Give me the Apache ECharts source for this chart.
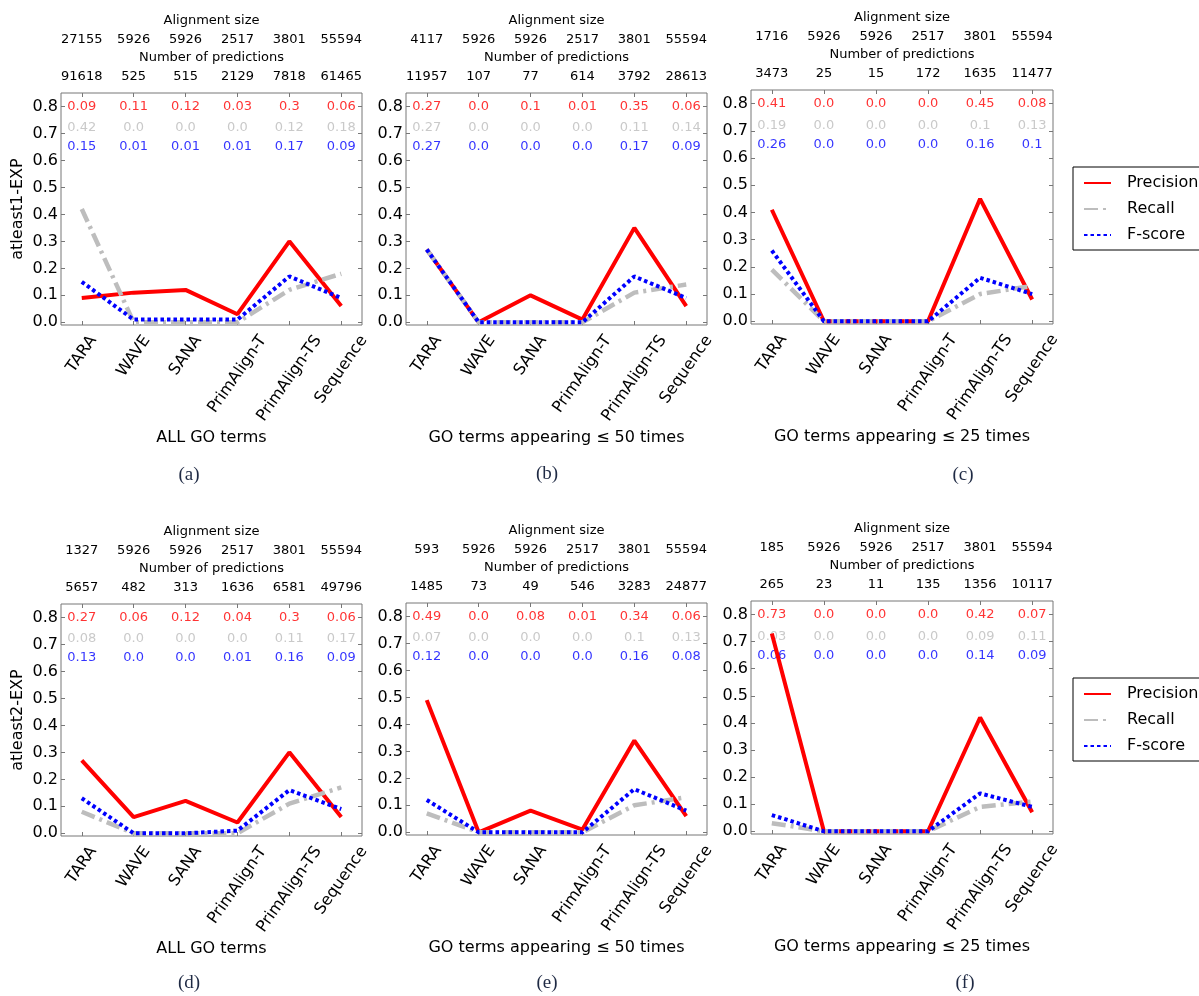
<!DOCTYPE html>
<html>
<head>
<meta charset="utf-8">
<title>GO term prediction</title>
<script src="https://cdn.jsdelivr.net/npm/echarts@6/dist/echarts.min.js"></script>
<style>
  html, body { margin: 0; padding: 0; background: #fff; }
  #main { width: 1199px; height: 996px; }
</style>
</head>
<body>
<div id="main"></div>
<script>
// ---- data ----
var methods = ['TARA', 'WAVE', 'SANA', 'PrimAlign-T', 'PrimAlign-TS', 'Sequence'];
var yTicks = [0, 0.1, 0.2, 0.3, 0.4, 0.5, 0.6, 0.7, 0.8];
var xIdx = [0, 1, 2, 3, 4, 5];
var rowNames = ['atleast1-EXP', 'atleast2-EXP'];
var panelNames = ['ALL GO terms', 'GO terms appearing \u2264 50 times', 'GO terms appearing \u2264 25 times',
                  'ALL GO terms', 'GO terms appearing \u2264 50 times', 'GO terms appearing \u2264 25 times'];
var panelTags = ['(a)', '(b)', '(c)', '(d)', '(e)', '(f)'];

// (a) atleast1, all terms
var alignA = [27155, 5926, 5926, 2517, 3801, 55594];
var predA  = [91618, 525, 515, 2129, 7818, 61465];
var precA  = [0.09, 0.11, 0.12, 0.03, 0.3, 0.06];
var recA   = [0.42, 0.0, 0.0, 0.0, 0.12, 0.18];
var fA     = [0.15, 0.01, 0.01, 0.01, 0.17, 0.09];
// (b) atleast1, <= 50
var alignB = [4117, 5926, 5926, 2517, 3801, 55594];
var predB  = [11957, 107, 77, 614, 3792, 28613];
var precB  = [0.27, 0.0, 0.1, 0.01, 0.35, 0.06];
var recB   = [0.27, 0.0, 0.0, 0.0, 0.11, 0.14];
var fB     = [0.27, 0.0, 0.0, 0.0, 0.17, 0.09];
// (c) atleast1, <= 25
var alignC = [1716, 5926, 5926, 2517, 3801, 55594];
var predC  = [3473, 25, 15, 172, 1635, 11477];
var precC  = [0.41, 0.0, 0.0, 0.0, 0.45, 0.08];
var recC   = [0.19, 0.0, 0.0, 0.0, 0.1, 0.13];
var fC     = [0.26, 0.0, 0.0, 0.0, 0.16, 0.1];
// (d) atleast2, all terms
var alignD = [1327, 5926, 5926, 2517, 3801, 55594];
var predD  = [5657, 482, 313, 1636, 6581, 49796];
var precD  = [0.27, 0.06, 0.12, 0.04, 0.3, 0.06];
var recD   = [0.08, 0.0, 0.0, 0.0, 0.11, 0.17];
var fD     = [0.13, 0.0, 0.0, 0.01, 0.16, 0.09];
// (e) atleast2, <= 50
var alignE = [593, 5926, 5926, 2517, 3801, 55594];
var predE  = [1485, 73, 49, 546, 3283, 24877];
var precE  = [0.49, 0.0, 0.08, 0.01, 0.34, 0.06];
var recE   = [0.07, 0.0, 0.0, 0.0, 0.1, 0.13];
var fE     = [0.12, 0.0, 0.0, 0.0, 0.16, 0.08];
// (f) atleast2, <= 25
var alignF = [185, 5926, 5926, 2517, 3801, 55594];
var predF  = [265, 23, 11, 135, 1356, 10117];
var precF  = [0.73, 0.0, 0.0, 0.0, 0.42, 0.07];
var recF   = [0.03, 0.0, 0.0, 0.0, 0.09, 0.11];
var fF     = [0.06, 0.0, 0.0, 0.0, 0.14, 0.09];

var panels = [
  { align: alignA, pred: predA, prec: precA, rec: recA, f: fA },
  { align: alignB, pred: predB, prec: precB, rec: recB, f: fB },
  { align: alignC, pred: predC, prec: precC, rec: recC, f: fC },
  { align: alignD, pred: predD, prec: precD, rec: recD, f: fD },
  { align: alignE, pred: predE, prec: precE, rec: recE, f: fE },
  { align: alignF, pred: predF, prec: precF, rec: recF, f: fF }
];

// ---- layout ----
var layout = [
  { left: 61,  top: 93,  width: 301, height: 232, tagX: 189, tagY: 475 },
  { left: 406, top: 93,  width: 301, height: 232, tagX: 547, tagY: 474 },
  { left: 751, top: 90,  width: 302, height: 234, tagX: 963, tagY: 475 },
  { left: 61,  top: 604, width: 301, height: 232, tagX: 189, tagY: 983 },
  { left: 406, top: 603, width: 301, height: 232, tagX: 547, tagY: 983 },
  { left: 751, top: 601, width: 302, height: 233, tagX: 965, tagY: 983 }
];

var FONT = '"DejaVu Sans", sans-serif';
var AXIS_GRAY = '#777';
var RED = '#ff0000', GRAY = '#bdbdbd', BLUE = '#0000ff';

function fmt(v) {
  var s = String(Math.round(v * 100) / 100);
  return s.indexOf('.') < 0 ? s + '.0' : s;
}
function pairs(arr) {
  return arr.map(function (v, i) { return [i, v]; });
}

var grids = [], xAxes = [], yAxes = [], series = [];

panels.forEach(function (p, k) {
  var L = layout[k];
  grids.push({
    left: L.left, top: L.top, width: L.width, height: L.height,
    show: true, borderColor: AXIS_GRAY, borderWidth: 1, backgroundColor: 'transparent',
    containLabel: false, outerBoundsMode: 'none'
  });

  // bottom axis (ticks only, labels drawn rotated later)
  xAxes.push({
    type: 'value', gridIndex: k, min: -0.4, max: 5.4, position: 'bottom',
    axisLine: { show: false, onZero: false }, splitLine: { show: false },
    axisTick: { show: true, inside: true, length: 4, customValues: xIdx, lineStyle: { color: AXIS_GRAY } },
    axisLabel: { show: false },
    name: panelNames[k], nameLocation: 'middle', nameGap: 113, nameMoveOverlap: false,
    nameTextStyle: { fontSize: 16, fontFamily: FONT, color: '#000', verticalAlign: 'middle' }
  });
  // top axis: number of predictions
  xAxes.push({
    type: 'value', gridIndex: k, min: -0.4, max: 5.4, position: 'top', offset: 0,
    axisLine: { show: false, onZero: false }, splitLine: { show: false },
    axisTick: { show: true, inside: true, length: 4, customValues: xIdx, lineStyle: { color: AXIS_GRAY } },
    axisLabel: {
      customValues: xIdx, margin: 16, verticalAlign: 'middle', fontSize: 13, fontFamily: FONT, color: '#000',
      formatter: (function (arr) { return function (v) { return String(arr[Math.round(v)]); }; })(p.pred)
    },
    name: 'Number of predictions', nameLocation: 'middle', nameGap: 35, nameMoveOverlap: false,
    nameTextStyle: { fontSize: 13, fontFamily: FONT, color: '#000', verticalAlign: 'middle' }
  });
  // top axis: alignment size
  xAxes.push({
    type: 'value', gridIndex: k, min: -0.4, max: 5.4, position: 'top', offset: 37,
    axisLine: { show: false, onZero: false }, splitLine: { show: false }, axisTick: { show: false },
    axisLabel: {
      customValues: xIdx, margin: 16, verticalAlign: 'middle', fontSize: 13, fontFamily: FONT, color: '#000',
      formatter: (function (arr) { return function (v) { return String(arr[Math.round(v)]); }; })(p.align)
    },
    name: 'Alignment size', nameLocation: 'middle', nameGap: 35, nameMoveOverlap: false,
    nameTextStyle: { fontSize: 13, fontFamily: FONT, color: '#000', verticalAlign: 'middle' }
  });

  yAxes.push({
    type: 'value', gridIndex: k, min: -0.01, max: 0.85, position: 'left',
    axisLine: { show: false, onZero: false }, splitLine: { show: false },
    axisTick: { show: true, inside: true, length: 4, customValues: yTicks, lineStyle: { color: AXIS_GRAY } },
    axisLabel: {
      customValues: yTicks, margin: 3, fontSize: 16, fontFamily: FONT, color: '#000',
      formatter: function (v) { return v.toFixed(1); }
    },
    name: k % 3 === 0 ? rowNames[Math.floor(k / 3)] : '',
    nameLocation: 'middle', nameGap: 43, nameRotate: 90, nameMoveOverlap: false,
    nameTextStyle: { fontSize: 16, fontFamily: FONT, color: '#000', verticalAlign: 'middle' }
  });
  yAxes.push({
    type: 'value', gridIndex: k, min: -0.01, max: 0.85, position: 'right',
    axisLine: { show: false, onZero: false }, splitLine: { show: false },
    axisTick: { show: true, inside: true, length: 4, customValues: yTicks, lineStyle: { color: AXIS_GRAY } },
    axisLabel: { show: false }
  });

  var xi = k * 3, yi = k * 2;
  series.push({
    name: 'Precision', type: 'line', xAxisIndex: xi, yAxisIndex: yi,
    data: pairs(p.prec), symbol: 'none', showSymbol: false, clip: false, silent: true,
    itemStyle: { color: RED }, lineStyle: { color: RED, width: 4 }
  });
  series.push({
    name: 'Recall', type: 'line', xAxisIndex: xi, yAxisIndex: yi,
    data: pairs(p.rec), symbol: 'none', showSymbol: false, clip: false, silent: true,
    itemStyle: { color: GRAY }, lineStyle: { color: GRAY, width: 4.5, type: [14, 5, 3, 5] }
  });
  series.push({
    name: 'F-score', type: 'line', xAxisIndex: xi, yAxisIndex: yi,
    data: pairs(p.f), symbol: 'none', showSymbol: false, clip: false, silent: true,
    itemStyle: { color: BLUE }, lineStyle: { color: BLUE, width: 4, type: [3.5, 3] }
  });

  // value annotations inside the plot
  [[p.prec, 0.8, '#ff0000'], [p.rec, 0.72, '#bbbbbb'], [p.f, 0.65, '#0000ff']].forEach(function (row, r) {
    series.push({
      name: 'ann' + k + '_' + r, type: 'scatter', xAxisIndex: xi, yAxisIndex: yi,
      symbolSize: 1, silent: true, itemStyle: { color: 'rgba(0,0,0,0)' },
      data: row[0].map(function (v, i) { return [i, row[1], v]; }),
      label: {
        show: true, position: 'inside', fontSize: 13, fontFamily: FONT, color: row[2],
        formatter: function (prm) { return fmt(prm.value[2]); }
      }
    });
  });
});

function legendCfg(top) {
  return {
    data: ['Precision', 'Recall', 'F-score'], orient: 'vertical', left: 1073, top: top,
    padding: [8, 10, 7, 10], itemWidth: 27, itemHeight: 14, itemGap: 10,
    borderColor: '#000', borderWidth: 1, borderRadius: 0, backgroundColor: '#fff',
    itemStyle: { opacity: 0 },
    textStyle: { fontSize: 16, fontFamily: FONT, color: '#000', padding: [0, 0, 0, 11] },
    selectedMode: false
  };
}

var chart = echarts.init(document.getElementById('main'), null, { renderer: 'canvas' });
chart.setOption({
  animation: false,
  backgroundColor: '#fff',
  grid: grids,
  xAxis: xAxes,
  yAxis: yAxes,
  legend: [legendCfg(167), legendCfg(678)],
  series: series
});

// rotated category labels under each panel + sub-figure tags
var ctx = document.createElement('canvas').getContext('2d');
ctx.font = '16px "DejaVu Sans"';
var theta = 55 * Math.PI / 180;
var lineH = 18.6;
var graphics = [];
layout.forEach(function (L, k) {
  var bottom = L.top + L.height;
  methods.forEach(function (m, i) {
    var px = chart.convertToPixel({ xAxisIndex: k * 3 }, i);
    var w = ctx.measureText(m).width;
    var halfH = (w * Math.sin(theta) + lineH * Math.cos(theta)) / 2;
    graphics.push({
      type: 'text', x: px, y: bottom + 7 + halfH, rotation: theta, silent: true,
      style: { text: m, align: 'center', verticalAlign: 'middle', fontSize: 16, fontFamily: FONT, fill: '#000' }
    });
  });
  graphics.push({
    type: 'text', x: L.tagX, y: L.tagY, silent: true,
    style: { text: panelTags[k], align: 'center', verticalAlign: 'middle', fontSize: 19,
             fontFamily: '"Liberation Serif", "DejaVu Serif", serif', fill: '#1f2a44' }
  });
});
chart.setOption({ graphic: graphics });

window.onresize = function () { chart.resize(); };
</script>
</body>
</html>
